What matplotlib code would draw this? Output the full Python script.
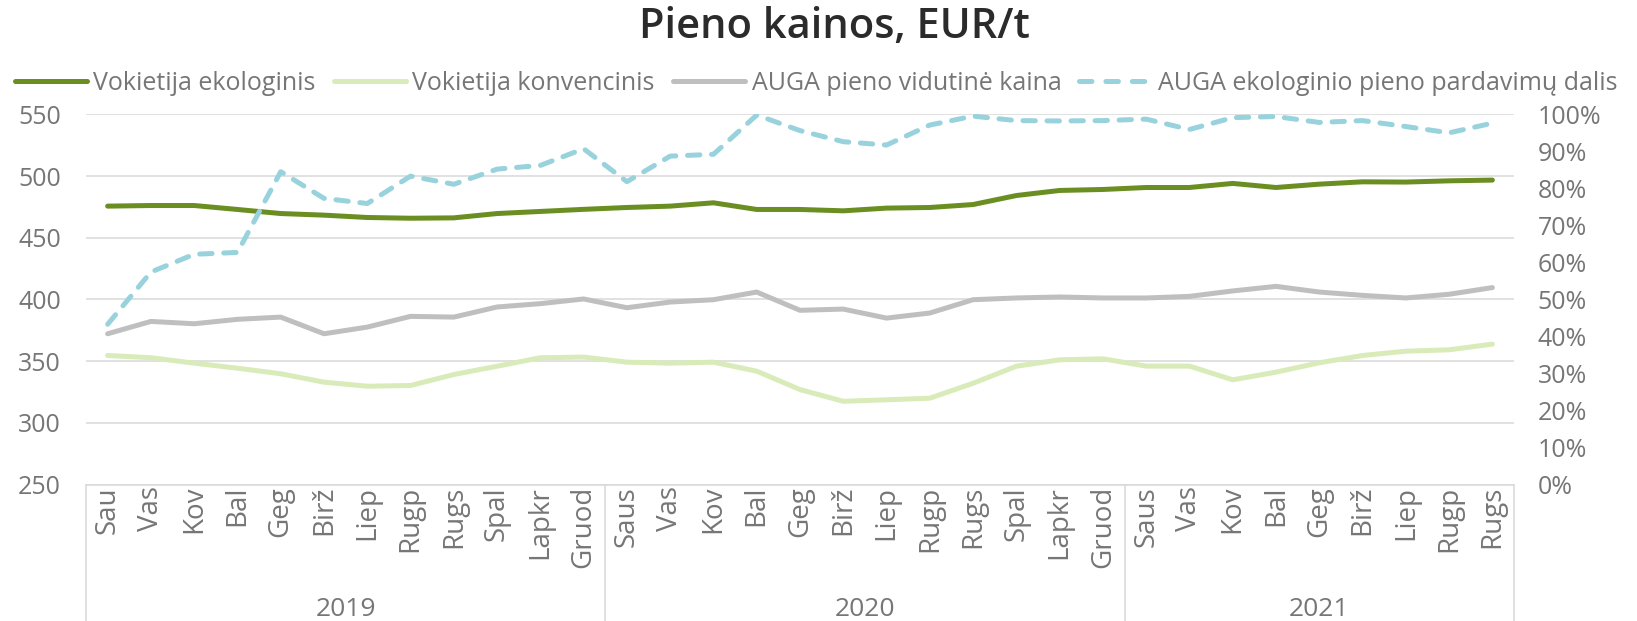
import numpy as np
import matplotlib
matplotlib.use('Agg')
import matplotlib.pyplot as plt
import matplotlib.lines as mlines
import matplotlib.transforms as mtransforms
from matplotlib.ticker import PercentFormatter

plt.rcParams['font.family'] = ['Open Sans', 'DejaVu Sans']
plt.rcParams['lines.scale_dashes'] = False

## data
months = ['Sau', 'Vas', 'Kov', 'Bal', 'Geg', 'Birž', 'Liep', 'Rugp', 'Rugs', 'Spal', 'Lapkr', 'Gruod',
          'Saus', 'Vas', 'Kov', 'Bal', 'Geg', 'Birž', 'Liep', 'Rugp', 'Rugs', 'Spal', 'Lapkr', 'Gruod',
          'Saus', 'Vas', 'Kov', 'Bal', 'Geg', 'Birž', 'Liep', 'Rugp', 'Rugs']
years = ['2019', '2020', '2021']
year_sizes = [12, 12, 9]

de_eko = [475.6, 476.1, 476.1, 472.9, 469.6, 468.3, 466.4, 465.8, 466.1, 469.6, 471.3, 473.0,
          474.5, 475.6, 478.3, 472.9, 472.9, 471.8, 474.0, 474.5, 476.9, 484.2, 488.3, 489.1,
          490.7, 490.7, 494.0, 490.7, 493.4, 495.3, 495.1, 496.1, 496.7]
de_konv = [354.6, 352.8, 348.4, 344.3, 339.8, 333.0, 329.7, 330.3, 339.2, 345.9, 352.8, 353.3,
           349.2, 348.4, 349.2, 341.9, 327.0, 317.5, 318.7, 320.0, 332.1, 345.9, 351.1, 351.9,
           346.0, 346.0, 334.9, 341.1, 348.7, 354.6, 358.1, 359.2, 363.8]
auga_price = [372.2, 382.2, 380.3, 383.9, 385.7, 372.2, 377.6, 386.3, 385.7, 393.9, 396.6, 400.4,
              393.3, 397.9, 399.8, 406.0, 391.2, 392.2, 384.9, 389.0, 399.8, 401.2, 402.0, 401.2,
              401.2, 402.5, 406.9, 410.6, 406.0, 403.3, 401.2, 404.2, 409.6]
auga_eko_share = [43.3, 57.4, 62.2, 62.7, 84.5, 77.3, 75.9, 83.3, 81.1, 85.2, 86.2, 90.7,
                  81.8, 88.7, 89.2, 99.8, 95.6, 92.6, 91.7, 97.1, 99.5, 98.3, 98.2, 98.3,
                  98.7, 95.9, 99.1, 99.4, 97.8, 98.3, 96.7, 95.0, 97.6]

c_eko = '#6b8e23'
c_konv = '#d9ebb9'
c_auga = '#bfbfbf'
c_share = '#98d2dc'
c_grid = '#d9d9d9'
c_text = '#767676'

x = np.arange(len(months))

fig = plt.figure(figsize=(16.37, 6.21), dpi=100)
ax1 = fig.add_axes([86/1637, 1-484.6/621, (1514-86)/1637, (484.6-114.3)/621])
ax2 = ax1.twinx()

lw = 3.6
h1, = ax1.plot(x, de_eko, color=c_eko, lw=lw, solid_capstyle='round', label='Vokietija ekologinis')
h2, = ax1.plot(x, de_konv, color=c_konv, lw=lw, solid_capstyle='round', label='Vokietija konvencinis')
h3, = ax1.plot(x, auga_price, color=c_auga, lw=lw, solid_capstyle='round', label='AUGA pieno vidutinė kaina')
h4, = ax2.plot(x, np.array(auga_eko_share)/100., color=c_share, lw=lw, dashes=(8.9, 8.4),
               dash_capstyle='round', label='AUGA ekologinio pieno pardavimų dalis')

## proxy handle so the dashed legend key shows three dashes with a gap before the text
h4_key = mlines.Line2D([], [], color=c_share, lw=lw, dashes=(9.0, 10.0), dash_capstyle='round')

ax1.set_xlim(-0.5, len(months)-0.5)
ax1.set_ylim(250, 550)
ax1.set_yticks(np.arange(250, 551, 50))
ax2.set_ylim(0, 1)
ax2.set_yticks(np.arange(0, 1.01, 0.1))
ax2.yaxis.set_major_formatter(PercentFormatter(1.0, decimals=0))

for a in (ax1, ax2):
    for s in a.spines.values():
        s.set_visible(False)
ax1.spines['bottom'].set_visible(True)
ax1.spines['bottom'].set_color(c_grid)
ax1.spines['bottom'].set_linewidth(1.1)
ax1.grid(axis='y', color=c_grid, lw=1.1)
ax1.set_axisbelow(True)

ax1.tick_params(axis='y', length=0, pad=18, labelsize=18, labelcolor=c_text)
ax2.tick_params(axis='y', length=0, pad=17, labelsize=18, labelcolor=c_text)
ax1.set_xticks(x)
ax1.set_xticklabels(months, rotation=90, fontsize=20, color=c_text)
ax1.tick_params(axis='x', length=0, pad=1)

## year groups under the month labels
trans = mtransforms.blended_transform_factory(ax1.transData, ax1.transAxes)
edges = np.concatenate([[0], np.cumsum(year_sizes)]) - 0.5
for e in edges:
    ax1.plot([e, e], [0, -0.37], color=c_grid, lw=1.1, transform=trans, clip_on=False)
for yr, lo, hi in zip(years, edges[:-1], edges[1:]):
    ax1.text((lo+hi)/2., -0.338, yr, transform=trans, ha='center', va='center', fontsize=19, color=c_text)

fig.text(0.510, 0.956, 'Pieno kainos, EUR/t', ha='center', va='center', fontsize=30,
         fontweight='semibold', color='#2b2b2b')

leg = fig.legend([h1, h2, h3, h4_key], [h.get_label() for h in [h1, h2, h3, h4]], loc='center',
                 bbox_to_anchor=(0.4985, 0.866), ncol=4, frameon=False, fontsize=18,
                 handlelength=2.9, handletextpad=0.25, columnspacing=0.72)
for t in leg.get_texts():
    t.set_color(c_text)

fig.savefig('out.png', dpi=100)
